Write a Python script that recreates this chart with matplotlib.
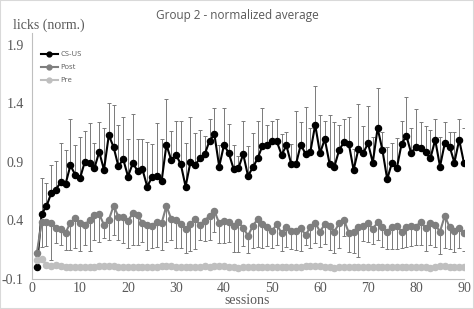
import matplotlib
matplotlib.use("Agg")
import matplotlib.pyplot as plt
from matplotlib.patches import Rectangle
import numpy as np

# sessions 1..90
sessions = list(range(1, 91))

cs_us = [0.00, 0.456, 0.52, 0.632, 0.664, 0.73, 0.712, 0.87, 0.79, 0.76,
         0.90, 0.894, 0.846, 0.985, 0.832, 1.128, 1.026, 0.862, 0.923, 0.775,
         0.889, 0.823, 0.837, 0.689, 0.769, 0.783, 0.735, 1.045, 0.917, 0.960,
         0.88, 0.689, 0.897, 0.874, 0.931, 0.966, 1.082, 1.134, 0.860, 1.045,
         0.974, 0.840, 0.846, 0.966, 0.780, 0.852, 0.929, 1.037, 1.042, 1.077,
         1.074, 0.960, 1.040, 0.883, 0.880, 1.048, 0.966, 0.988, 1.216, 0.974,
         1.094, 0.883, 0.860, 1.002, 1.068, 1.054, 0.832, 1.008, 0.974, 1.059,
         0.894, 1.188, 1.002, 0.752, 0.894, 0.846, 1.054, 1.122, 0.974, 1.031,
         1.017, 0.980, 0.931, 1.088, 0.860, 1.060, 1.031, 0.894, 1.088, 0.889]

# top end of the CS-US error bars
cs_us_upper = [0.02, 0.76, 0.72, 0.874, 0.905, 1.06, 0.997, 1.265, 1.045, 1.111,
               1.165, 1.230, 1.060, 1.239, 1.188, 1.401, 1.384, 1.216, 1.282, 1.094,
               1.307, 1.099, 1.099, 1.068, 1.051, 1.230, 1.094, 1.438, 1.165, 1.245,
               1.245, 1.060, 1.282, 1.145, 1.168, 1.122, 1.267, 1.359, 1.045, 1.359,
               1.225, 1.045, 0.946, 1.250, 1.037, 1.145, 1.250, 1.359, 1.216, 1.245,
               1.270, 1.139, 1.159, 1.051, 1.336, 1.239, 1.367, 1.188, 1.544, 1.302,
               1.245, 1.302, 1.236, 1.211, 1.267, 1.279, 1.008, 1.393, 1.202, 1.373,
               1.116, 1.530, 1.159, 1.025, 1.065, 1.102, 1.250, 1.453, 1.193, 1.353,
               1.239, 1.202, 1.168, 1.265, 1.116, 1.239, 1.153, 1.159, 1.265, 1.188]

post = [0.12, 0.385, 0.385, 0.376, 0.339, 0.325, 0.296, 0.382, 0.419, 0.376,
        0.362, 0.405, 0.447, 0.453, 0.362, 0.405, 0.524, 0.433, 0.428, 0.396,
        0.462, 0.447, 0.376, 0.362, 0.356, 0.385, 0.376, 0.524, 0.413, 0.405,
        0.367, 0.327, 0.370, 0.413, 0.362, 0.399, 0.441, 0.481, 0.376, 0.396,
        0.390, 0.353, 0.384, 0.339, 0.268, 0.353, 0.410, 0.367, 0.342, 0.310,
        0.367, 0.290, 0.347, 0.313, 0.313, 0.333, 0.276, 0.342, 0.381, 0.305,
        0.367, 0.356, 0.305, 0.376, 0.404, 0.296, 0.305, 0.347, 0.356, 0.376,
        0.327, 0.384, 0.347, 0.305, 0.347, 0.353, 0.305, 0.347, 0.353, 0.347,
        0.390, 0.333, 0.381, 0.362, 0.305, 0.439, 0.342, 0.313, 0.333, 0.296]

# bottom end of the Post error bars
post_lower = [0.10, 0.171, 0.182, 0.062, 0.205, 0.19, 0.148, 0.148, 0.162, 0.142,
              0.19, 0.139, 0.233, 0.219, 0.248, 0.233, 0.276, 0.233, 0.205, 0.162,
              0.19, 0.19, 0.219, 0.148, 0.162, 0.176, 0.148, 0.219, 0.233, 0.162,
              0.162, 0.125, 0.139, 0.154, 0.233, 0.225, 0.233, 0.305, 0.205, 0.211,
              0.213, 0.134, 0.134, 0.182, 0.119, 0.162, 0.176, 0.162, 0.182, 0.162,
              0.191, 0.139, 0.176, 0.154, 0.148, 0.139, 0.191, 0.162, 0.211, 0.176,
              0.196, 0.148, 0.119, 0.168, 0.268, 0.134, 0.125, 0.085, 0.225, 0.219,
              0.199, 0.233, 0.176, 0.154, 0.157, 0.157, 0.162, 0.176, 0.182, 0.191,
              0.191, 0.142, 0.191, 0.176, 0.114, 0.162, 0.154, 0.134, 0.162, 0.142]

pre = [0.062, 0.071, 0.020, 0.011, 0.022, 0.011, 0.006, 0.0, 0.003, 0.0,
       0.0, 0.002, 0.004, 0.008, 0.010, 0.008, 0.011, 0.006, 0.004, 0.002,
       0.003, 0.0, 0.002, 0.0, 0.001, 0.006, 0.010, 0.012, 0.010, 0.006,
       0.004, 0.0, 0.002, 0.0, 0.004, 0.008, 0.006, 0.010, 0.012, 0.008,
       0.006, 0.0, -0.004, 0.002, 0.0, 0.004, 0.003, 0.002, 0.0, 0.0,
       0.002, 0.004, 0.0, 0.003, 0.002, 0.006, 0.012, 0.010, 0.014, 0.011,
       0.006, 0.0, -0.004, 0.002, 0.006, 0.004, 0.0, 0.002, 0.0, 0.002,
       0.004, 0.0, 0.003, 0.006, 0.002, 0.0, 0.004, 0.002, 0.006, 0.004,
       0.002, 0.0, -0.002, 0.004, 0.010, 0.012, 0.004, 0.0, 0.002, 0.0]

yticks = [-0.1, 0.4, 0.9, 1.4, 1.9]
xticks = list(range(0, 91, 10))

txt = '#595959'
serif = ['Liberation Serif', 'DejaVu Serif']

fig = plt.figure(figsize=(4.74, 3.09), dpi=100)
ax = fig.add_axes([32 / 474, 1 - 279 / 309, 432 / 474, 246 / 309])

x = np.array(sessions)
cs = np.array(cs_us)
po = np.array(post)
cs_err = np.array(cs_us_upper) - cs
po_err = po - np.array(post_lower)

# error bars first, then the lines on top
ax.errorbar(x, cs, yerr=[np.zeros_like(cs), cs_err], fmt='none',
            ecolor='#7a7a7a', elinewidth=0.7, capsize=1.3, capthick=0.7, zorder=1)
ax.errorbar(x, po, yerr=[po_err, np.zeros_like(po)], fmt='none',
            ecolor='#7a7a7a', elinewidth=0.7, capsize=1.3, capthick=0.7, zorder=1)

ax.plot(x, cs, color='black', lw=1.5, marker='o', ms=4.4, label='CS-US', zorder=3)
ax.plot(x, po, color='#7f7f7f', lw=1.5, marker='o', ms=4.4, label='Post', zorder=3)
ax.plot(x, pre, color='#bfbfbf', lw=1.5, marker='o', ms=4.4, label='Pre', zorder=4)

ax.set_xlim(0, 90)
ax.set_ylim(-0.1, 2.0)
ax.set_yticks(yticks)
ax.set_yticklabels(['-0.1', '0.4', '0.9', '1.4', '1.9'])
ax.set_xticks(xticks)
ax.tick_params(length=0, labelsize=10, labelcolor=txt)
ax.tick_params(axis='y', pad=6)
ax.tick_params(axis='x', pad=2)
for lab in ax.get_xticklabels() + ax.get_yticklabels():
    lab.set_family(serif)

for s in ['top', 'right']:
    ax.spines[s].set_visible(False)
for s in ['left', 'bottom']:
    ax.spines[s].set_color('#bfbfbf')
    ax.spines[s].set_linewidth(0.8)

fig.text(0.5, 1 - 16 / 309, 'Group 2 - normalized average', ha='center', va='center',
         fontsize=8.5, color=txt, family=['Open Sans', 'DejaVu Sans'])
fig.text(13 / 474, 1 - 25 / 309, 'licks (norm.)', ha='left', va='center',
         fontsize=10, color=txt, family=serif)
fig.text(247 / 474, 1 - 300 / 309, 'sessions', ha='center', va='center',
         fontsize=10, color=txt, family=serif)

leg = ax.legend(loc='upper left', bbox_to_anchor=(0.005, 0.955), frameon=False,
                prop={'family': ['Open Sans', 'DejaVu Sans'], 'size': 5.5},
                handlelength=2.2, handletextpad=0.3, labelspacing=0.75, markerscale=0.8)
for t in leg.get_texts():
    t.set_color(txt)

fig.patches.append(Rectangle((0, 0), 1, 1, transform=fig.transFigure, fill=False,
                             edgecolor='#d9d9d9', lw=1.5))

fig.savefig('out.png', dpi=100)
